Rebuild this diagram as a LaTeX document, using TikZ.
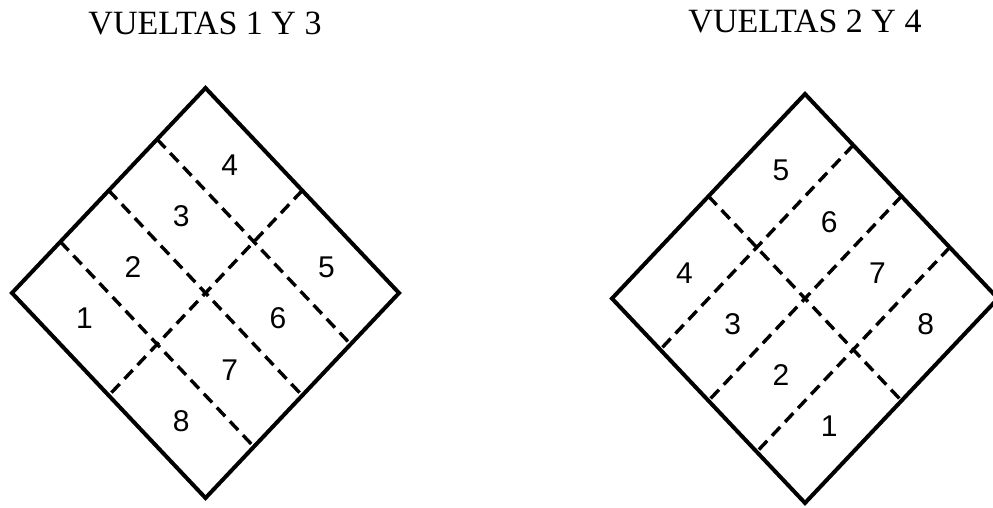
\documentclass[tikz,border=0pt]{standalone}
\usepackage{fontspec}
\setmainfont{Liberation Serif}
\setsansfont{Liberation Sans}
\usepackage{tikz}
\usetikzlibrary{
  calc,
  positioning
}

\begin{document}
\begin{tikzpicture}[
      x=0.5pt,y=-0.5pt,
      frame/.style={
         line width=2pt,
         line join=miter,
         draw=black
      },
      divider/.style={
         line width=1.7pt,
         dash pattern=on 6pt off 3.5pt,
         draw=black
      },
      heading/.style={
         font=\rmfamily\fontsize{17}{20}\selectfont,
         inner sep=0pt
      },
      cell/.style={
         font=\sffamily\fontsize{15}{17}\selectfont,
         inner sep=0pt
      },
      corner/.style={coordinate}
    ]
    \useasboundingbox (0,0) rectangle (993,508);
    % titles
    \node (title13) [heading] at (205,23.5) {VUELTAS 1 Y 3};
    \node (title24) [heading] at (805,22) {VUELTAS 2 Y 4};
    % left diamond
    \coordinate (lt) at (205.5,88);
    \coordinate (ll) at (12,293);
    \coordinate (lr) at (399,293);
    \coordinate (lb) at (205.5,498);
    \draw[frame] (lt) -- (lr) -- (lb) -- (ll) -- cycle;
    \coordinate (la1) at ($(lt)!0.25!(ll)$);
    \coordinate (la2) at ($(lt)!0.5!(ll)$);
    \coordinate (la3) at ($(lt)!0.75!(ll)$);
    \coordinate (lb1) at ($(lr)!0.25!(lb)$);
    \coordinate (lb2) at ($(lr)!0.5!(lb)$);
    \coordinate (lb3) at ($(lr)!0.75!(lb)$);
    \coordinate (lc) at ($(lt)!0.5!(lr)$);
    \coordinate (ld) at ($(ll)!0.5!(lb)$);
    \draw[divider] (la1) -- (lb1);
    \draw[divider] (la2) -- (lb2);
    \draw[divider] (la3) -- (lb3);
    \draw[divider] (lc) -- (ld);
    \node (l4) [cell] at ($(lt)!0.125!(ll) + 0.25*(lr) - 0.25*(lt)$) {4};
    \node (l3) [cell] at ($(lt)!0.375!(ll) + 0.25*(lr) - 0.25*(lt)$) {3};
    \node (l2) [cell] at ($(lt)!0.625!(ll) + 0.25*(lr) - 0.25*(lt)$) {2};
    \node (l1) [cell] at ($(lt)!0.875!(ll) + 0.25*(lr) - 0.25*(lt)$) {1};
    \node (l5) [cell] at ($(lt)!0.125!(ll) + 0.75*(lr) - 0.75*(lt)$) {5};
    \node (l6) [cell] at ($(lt)!0.375!(ll) + 0.75*(lr) - 0.75*(lt)$) {6};
    \node (l7) [cell] at ($(lt)!0.625!(ll) + 0.75*(lr) - 0.75*(lt)$) {7};
    \node (l8) [cell] at ($(lt)!0.875!(ll) + 0.75*(lr) - 0.75*(lt)$) {8};
    % right diamond
    \coordinate (rt) at (805,94);
    \coordinate (rl) at (612,298.5);
    \coordinate (rr) at (998,298.5);
    \coordinate (rb) at (805,503);
    \draw[frame] (rt) -- (rr) -- (rb) -- (rl) -- cycle;
    \coordinate (ra1) at ($(rt)!0.25!(rr)$);
    \coordinate (ra2) at ($(rt)!0.5!(rr)$);
    \coordinate (ra3) at ($(rt)!0.75!(rr)$);
    \coordinate (rb1) at ($(rl)!0.25!(rb)$);
    \coordinate (rb2) at ($(rl)!0.5!(rb)$);
    \coordinate (rb3) at ($(rl)!0.75!(rb)$);
    \coordinate (rc) at ($(rt)!0.5!(rl)$);
    \coordinate (rd) at ($(rr)!0.5!(rb)$);
    \draw[divider] (ra1) -- (rb1);
    \draw[divider] (ra2) -- (rb2);
    \draw[divider] (ra3) -- (rb3);
    \draw[divider] (rc) -- (rd);
    \node (r5) [cell] at ($(rt)!0.125!(rr) + 0.25*(rl) - 0.25*(rt)$) {5};
    \node (r6) [cell] at ($(rt)!0.375!(rr) + 0.25*(rl) - 0.25*(rt)$) {6};
    \node (r7) [cell] at ($(rt)!0.625!(rr) + 0.25*(rl) - 0.25*(rt)$) {7};
    \node (r8) [cell] at ($(rt)!0.875!(rr) + 0.25*(rl) - 0.25*(rt)$) {8};
    \node (r4) [cell] at ($(rt)!0.125!(rr) + 0.75*(rl) - 0.75*(rt)$) {4};
    \node (r3) [cell] at ($(rt)!0.375!(rr) + 0.75*(rl) - 0.75*(rt)$) {3};
    \node (r2) [cell] at ($(rt)!0.625!(rr) + 0.75*(rl) - 0.75*(rt)$) {2};
    \node (r1) [cell] at ($(rt)!0.875!(rr) + 0.75*(rl) - 0.75*(rt)$) {1};
\end{tikzpicture}
\end{document}
